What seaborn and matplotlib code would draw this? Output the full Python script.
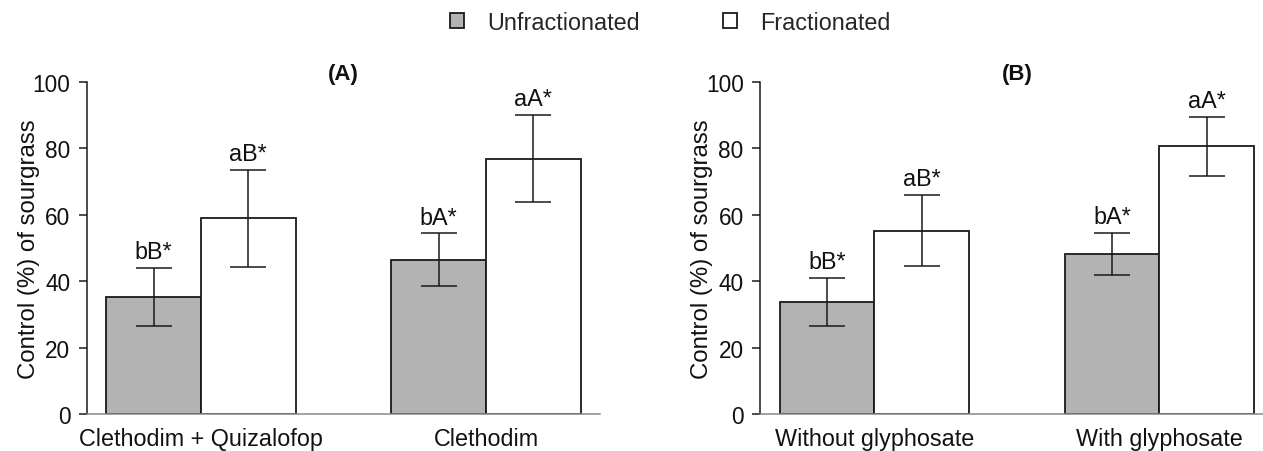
import matplotlib
matplotlib.use("Agg")
import matplotlib.pyplot as plt
from matplotlib.container import BarContainer
import seaborn as sns
import pandas as pd

sns.set_theme(style="white")
plt.rcParams['font.family'] = ['Liberation Sans', 'DejaVu Sans']

# ---- data ----
hue_levels = ["Unfractionated", "Fractionated"]

cats_A = ["Clethodim + Quizalofop", "Clethodim"]
mean_A_unf = [35.3, 46.5]
mean_A_fr = [59.0, 76.9]
err_A_unf = [8.8, 7.9]
err_A_fr = [14.6, 13.0]
lab_A_unf = ["bB*", "bA*"]
lab_A_fr = ["aB*", "aA*"]

cats_B = ["Without glyphosate", "With glyphosate"]
mean_B_unf = [33.7, 48.2]
mean_B_fr = [55.2, 80.6]
err_B_unf = [7.2, 6.3]
err_B_fr = [10.7, 8.9]
lab_B_unf = ["bB*", "bA*"]
lab_B_fr = ["aB*", "aA*"]

yticks = [0, 20, 40, 60, 80, 100]
ylabel = "Control (%) of sourgrass"

palette = {"Unfractionated": "#b3b3b3", "Fractionated": "#ffffff"}
FS = 16.8

fig = plt.figure(figsize=(12.63, 4.52), dpi=100)
axA = fig.add_axes([0.0689, 0.0812, 0.4062, 0.7357])
axB = fig.add_axes([0.6020, 0.0812, 0.4062, 0.7357])


def panel(ax, cats, m_unf, m_fr, e_unf, e_fr, l_unf, l_fr, title):
    df = pd.DataFrame({
        "cat": cats * 2,
        "grp": [hue_levels[0]] * len(cats) + [hue_levels[1]] * len(cats),
        "val": list(m_unf) + list(m_fr),
    })
    sns.barplot(data=df, x="cat", y="val", hue="grp", order=cats,
                hue_order=hue_levels, palette=palette, width=0.664,
                edgecolor="#1a1a1a", linewidth=1.3, errorbar=None, ax=ax)
    errs = [e_unf, e_fr]
    labs = [l_unf, l_fr]
    conts = [c for c in ax.containers if isinstance(c, BarContainer)]
    for ci, cont in enumerate(conts):
        for j, bar in enumerate(cont.patches):
            xc = bar.get_x() + bar.get_width() / 2
            h = bar.get_height()
            ax.errorbar(xc, h, yerr=errs[ci][j], fmt="none", ecolor="#1a1a1a",
                        elinewidth=1.1, capsize=13, capthick=1.1, zorder=5)
            ax.annotate(labs[ci][j], (xc, h + errs[ci][j]), xytext=(0, 3.5),
                        textcoords="offset points", ha="center", va="bottom",
                        fontsize=FS, color="#111111")
    ax.set_xlim(-0.4, 1.4)
    ax.set_ylim(0, 100)
    ax.set_yticks(yticks)
    ax.set_yticklabels([str(t) for t in yticks], fontsize=16.3, color="#111111")
    ax.set_xticks(range(len(cats)))
    ax.set_xticklabels(cats, fontsize=FS, color="#111111")
    ax.set_xlabel("")
    ax.set_ylabel(ylabel, fontsize=17.3, color="#111111")
    ax.yaxis.set_label_coords(-0.0916, 0.5)
    ax.tick_params(axis="y", length=6, width=1.1, color="#1a1a1a", pad=6, left=True)
    ax.tick_params(axis="x", length=0, pad=9)
    for s in ["top", "right"]:
        ax.spines[s].set_visible(False)
    ax.spines["left"].set_color("#1a1a1a")
    ax.spines["left"].set_linewidth(1.1)
    ax.spines["left"].set_bounds(0, 100)
    ax.spines["bottom"].set_color("#888888")
    ax.spines["bottom"].set_linewidth(1.1)
    ax.set_title(title, fontsize=16, fontweight="bold", pad=2, color="#111111")
    leg = ax.get_legend()
    handles, labels = ax.get_legend_handles_labels()
    if leg is not None:
        leg.remove()
    return handles, labels


handles, labels = panel(axA, cats_A, mean_A_unf, mean_A_fr, err_A_unf, err_A_fr,
                        lab_A_unf, lab_A_fr, "(A)")
panel(axB, cats_B, mean_B_unf, mean_B_fr, err_B_unf, err_B_fr,
      lab_B_unf, lab_B_fr, "(B)")

fig.legend(handles, labels, loc="center", bbox_to_anchor=(0.5305, 0.949), ncol=2,
           frameon=False, fontsize=FS, handlelength=0.6, handleheight=0.6,
           handletextpad=1.0, columnspacing=3.56)

fig.savefig("out.png", dpi=100)
